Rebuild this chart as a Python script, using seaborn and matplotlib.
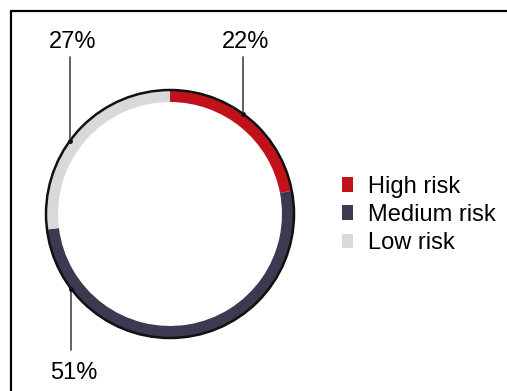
import matplotlib
matplotlib.use("Agg")
import matplotlib.pyplot as plt
from matplotlib.lines import Line2D
from matplotlib.patches import Circle, Patch
import numpy as np
import seaborn as sns

# Risk distribution
categories = ["High risk", "Medium risk", "Low risk"]
shares = [22, 51, 27]
labels = ["22%", "51%", "27%"]
palette = ["#c1121c", "#3e3850", "#d9d9d9"]

sns.set_style("white")
plt.rcParams["font.family"] = ["Liberation Sans", "DejaVu Sans"]
plt.rcParams["text.color"] = "black"

W, H = 507, 391
fig = plt.figure(figsize=(W / 100, H / 100), dpi=100)

# Figure frame (top and left edges)
fig.add_artist(Line2D([10.5 / W, 10.5 / W], [0, 1 - 10.5 / H], color="black", lw=1.6,
                      transform=fig.transFigure))
fig.add_artist(Line2D([10.5 / W, 1], [1 - 10.5 / H, 1 - 10.5 / H], color="black", lw=1.6,
                      transform=fig.transFigure))

# Donut axes: centre (170, 214) px, radius 124 px
cx, cy, r_px = 170, 214, 124
half = 130
ax = fig.add_axes([(cx - half) / W, (H - cy - half) / H, 2 * half / W, 2 * half / H])
lim = half / r_px

ring = 0.097
ax.pie(shares, colors=palette, startangle=90, counterclock=False, radius=1.0,
       wedgeprops=dict(width=ring, edgecolor="none", linewidth=0))
ax.set_xlim(-lim, lim)
ax.set_ylim(-lim, lim)
ax.set_aspect("equal")
ax.axis("off")
ax.add_patch(Circle((0, 0), 1.0, fill=False, edgecolor="#111111", lw=1.8, zorder=5))

# Leader lines: (angle clockwise from top in degrees, end y, label y)
leaders = {
    "22%": (36, 1.266, 1.385),
    "27%": (306, 1.266, 1.385),
    "51%": (233, -1.097, -1.28),
}
for lab, (ang, yend, ylab) in leaders.items():
    a = np.deg2rad(ang)
    x0, y0 = np.sin(a), np.cos(a)
    ax.plot([x0, x0], [y0, yend], color="#555555", lw=1.3, clip_on=False, zorder=6)
    ax.plot([x0], [y0], "o", color="#111111", ms=2.5, clip_on=False, zorder=7)
    ax.text(x0 + 0.02, ylab, lab, ha="center", va="center", fontsize=17,
            color="black", clip_on=False)

handles = [Patch(facecolor=c, edgecolor="none") for c in palette]
fig.legend(handles, categories, loc="center left", bbox_to_anchor=(342 / W, 1 - 215 / H),
           frameon=False, fontsize=17, handlelength=0.47, handleheight=0.58,
           handletextpad=0.62, labelspacing=0.27, borderaxespad=0, borderpad=0,
           labelcolor="black")

fig.savefig("out.png", dpi=100, facecolor="white")
